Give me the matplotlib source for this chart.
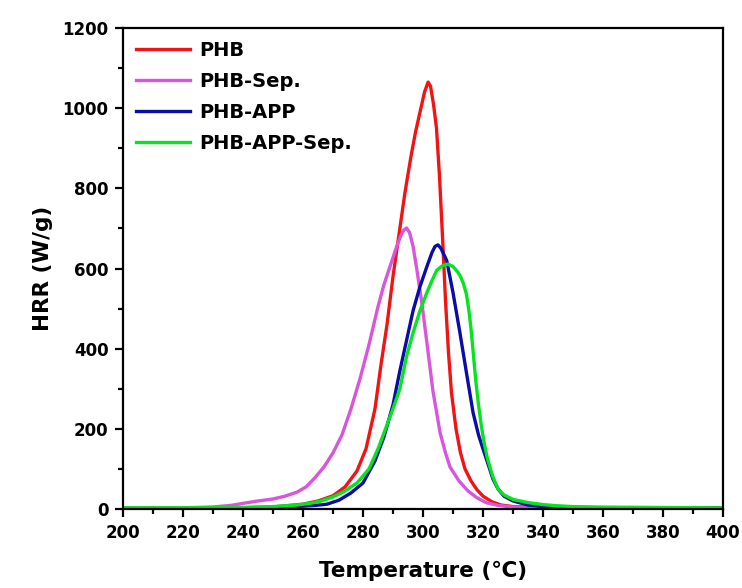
import matplotlib
matplotlib.use("Agg")
import matplotlib.pyplot as plt
from matplotlib.ticker import MultipleLocator

plt.rcParams['font.family'] = ['DejaVu Sans']
plt.rcParams['font.weight'] = 'bold'

# PHB
t_phb = [200, 220, 240, 250, 260, 265, 270, 274, 278, 281, 284, 286, 288, 289, 290,
         292, 294, 296, 297.5, 299, 300.5, 301.7, 302.5, 303.5, 304.5, 305.5, 306.5,
         307.5, 308.5, 309.5, 311, 312.5, 314, 316, 318, 320, 323, 326, 330, 340, 360, 400]
hrr_phb = [2, 2, 3, 5, 12, 20, 33, 55, 95, 150, 250, 360, 460, 520, 580,
           685, 790, 880, 940, 990, 1040, 1065, 1055, 1010, 950, 830, 680,
           520, 390, 290, 200, 140, 100, 70, 48, 32, 18, 10, 6, 4, 3, 3]

# PHB-Sep.
t_sep = [200, 220, 230, 236, 240, 245, 250, 254, 258, 261, 264, 267, 270, 273, 276,
         279, 282, 285, 287, 289, 291, 292.5, 293.5, 294.5, 295.5, 296.7, 298, 299.5,
         301.3, 303.3, 305.7, 307.5, 309, 312, 315, 318, 321, 325, 330, 340, 360, 400]
hrr_sep = [2, 3, 5, 9, 14, 20, 25, 32, 42, 55, 78, 105, 140, 185, 250,
           325, 410, 505, 560, 605, 650, 680, 695, 701, 690, 655, 595, 520,
           415, 295, 190, 140, 105, 70, 45, 28, 16, 9, 5, 3, 2, 2]

# PHB-APP
t_app = [200, 220, 240, 250, 255, 260, 264, 268, 272, 276, 280, 284, 287, 290, 292.3,
         294.5, 296.7, 299, 301.3, 303, 304, 305, 306, 307.9, 310, 312.3, 314.7, 316.7,
         318.5, 320, 322, 323.3, 325, 327, 330, 335, 340, 350, 400]
hrr_app = [1, 1, 2, 3, 5, 7, 9, 12, 22, 40, 65, 120, 180, 260, 345,
           420, 495, 555, 605, 640, 655, 659, 650, 620, 540, 440, 330, 240,
           185, 150, 105, 75, 50, 32, 20, 10, 6, 4, 3]

# PHB-APP-Sep.
t_appsep = [200, 220, 240, 250, 258, 263, 266, 270, 274, 278, 282, 285, 288, 290, 292.3,
            294.5, 296.7, 299, 301.3, 303, 304.6, 306.5, 308.3, 310, 311.5, 312.5, 313.5,
            314.5, 315.3, 316, 316.8, 317.6, 318.5, 319.5, 320.5, 321.5, 323.3, 325, 327,
            330, 335, 340, 345, 350, 360, 400]
hrr_appsep = [3, 3, 4, 6, 10, 15, 20, 30, 45, 65, 100, 150, 210, 250, 300,
              380, 440, 495, 540, 570, 596, 607, 611, 605, 592, 580, 562,
              535, 495, 450, 385, 320, 260, 205, 160, 125, 80, 50, 35,
              24, 16, 11, 8, 6, 4, 3]

series = [
    ("PHB", t_phb, hrr_phb, "#f01414"),
    ("PHB-Sep.", t_sep, hrr_sep, "#d855dc"),
    ("PHB-APP", t_app, hrr_app, "#0a0ca8"),
    ("PHB-APP-Sep.", t_appsep, hrr_appsep, "#05e41e"),
]

fig = plt.figure(figsize=(7.42, 5.88), dpi=100)
ax = fig.add_axes([123 / 742, 1 - 509 / 588, 600 / 742, 481 / 588])

for name, t, h, c in series:
    ax.plot(t, h, color=c, lw=2.4, label=name)

ax.set_xlim(200, 400)
ax.set_ylim(0, 1200)
ax.xaxis.set_major_locator(MultipleLocator(20))
ax.xaxis.set_minor_locator(MultipleLocator(10))
ax.yaxis.set_major_locator(MultipleLocator(200))
ax.yaxis.set_minor_locator(MultipleLocator(100))
ax.tick_params(which='both', direction='out', width=1.6, labelsize=12, pad=5)
ax.tick_params(which='major', length=5.5)
ax.tick_params(which='minor', length=3.5)
for sp in ax.spines.values():
    sp.set_linewidth(1.6)

ax.set_xlabel("Temperature (\u2103)", fontsize=15.5, fontweight='bold', labelpad=14)
ax.set_ylabel("HRR (W/g)", fontsize=15.5, fontweight='bold', labelpad=7)

ax.legend(loc='upper left', frameon=False, handlelength=2.8,
          handletextpad=0.45, labelspacing=0.62, borderaxespad=0.25,
          prop={'weight': 'bold', 'size': 14})

fig.savefig("out.png", dpi=100)
